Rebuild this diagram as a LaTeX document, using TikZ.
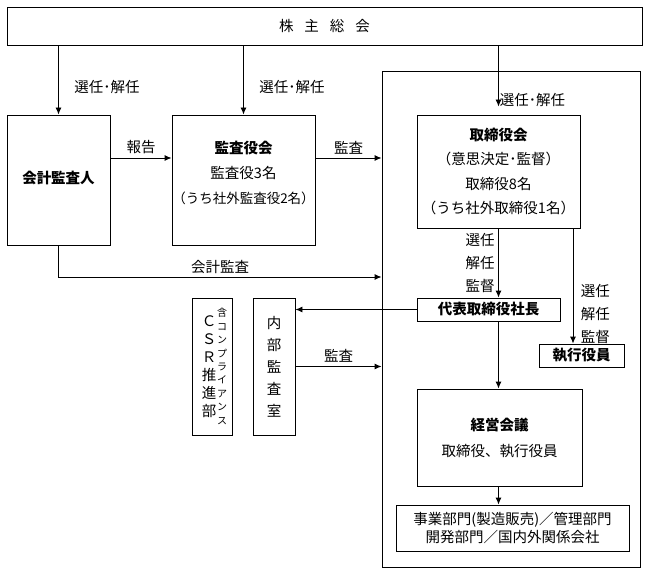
\documentclass[tikz,border=0pt]{standalone}
\usepackage{fontspec}
\setmainfont{Noto Sans CJK JP}
\usetikzlibrary{positioning, arrows.meta}

\newcommand{\fs}[1]{\fontsize{14.5}{#1}\selectfont}

\begin{document}
\begin{tikzpicture}[x=1pt, y=-1pt, font=\fs{16},
  box/.style={draw, line width=0.9pt, inner sep=0pt, align=center},
  arr/.style={line width=0.9pt, -{Latex[length=7pt,width=6pt]}}]
\useasboundingbox (0,0) rectangle (648,575);
\node[box, minimum width=258, minimum height=496] (frame) at (511,319) {};
\node[box, minimum width=635, minimum height=38] (soukai) at (324.5,26)
  {株\hspace{11pt}主\hspace{11pt}総\hspace{11pt}会};
\node[box, minimum width=103, minimum height=130, font=\fs{16}\bfseries] (kaikei) at (58.5,180) {会計監査人\\[-10pt]\mbox{}};
\node[box, minimum width=143, minimum height=130, font=\fontsize{13.5}{25}\selectfont] (kansa) at (243.5,180)
  {\textbf{\fs{25}監査役会}\\\fs{25}監査役3名\\（うち社外監査役2名）\\[-9pt]\mbox{}};
\node[box, minimum width=163, minimum height=113, font=\fs{24.5}] (torishimari) at (498.5,171.5)
  {\textbf{取締役会}\\（意思決定･監督）\\取締役8名\\（うち社外取締役1名）};
\node[box, minimum width=143, minimum height=23, font=\fs{16}\bfseries] (daihyo) at (488.5,309.5) {代表取締役社長};
\node[box, minimum width=85, minimum height=23, font=\fs{16}\bfseries] (shikko) at (581.5,355.5) {執行役員};
\node[box, minimum width=165, minimum height=97, font=\fs{26}] (keiei) at (499.5,437.5)
  {\textbf{経営会議}\\取締役、執行役員};
\node[box, minimum width=233, minimum height=46, font=\fs{18}] (jigyo) at (512.5,528)
  {事業部門(製造販売)／管理部門\\開発部門／国内外関係会社};
\node[box, minimum width=42, minimum height=137, font=\fs{22}] (naibu) at (274,366.5)
  {内\\部\\監\\査\\室};
\node[box, minimum width=40, minimum height=137] (csr) at (212,366.5) {};
\node[align=center, inner sep=0pt, font=\fs{18}] (csrname) at ([xshift=-3pt]csr.center)
  {Ｃ\\Ｓ\\Ｒ\\推\\進\\部};
\node[align=center, inner sep=0pt, font=\fontsize{10}{13.4}\selectfont] (csrnote) at ([xshift=10pt]csr.center)
  {含\\コ\\ン\\プ\\ラ\\イ\\ア\\ン\\ス};

\draw[arr] (soukai.south -| kaikei.north) -- node[right, pos=0.6, xshift=12pt] {選任･解任} (kaikei.north);
\draw[arr] (soukai.south -| kansa.north) -- node[right, pos=0.6, xshift=12pt] {選任･解任} (kansa.north);
\draw[arr] (soukai.south -| torishimari.north) -- node[right, pos=0.89, inner sep=1pt] {選任･解任} ([yshift=8pt]torishimari.north);
\draw[arr] ([yshift=22pt]kaikei.east) -- node[above] {報告} ([yshift=22pt]kansa.west);
\draw[arr] ([yshift=22pt]kansa.east) -- node[above] {監査} ([yshift=22pt]kansa.east -| frame.west);
\draw[arr] (kaikei.south) |- node[above, pos=0.75] {会計監査} (frame.west |- 0,277);
\draw[arr] (torishimari.south) -- node[left, midway, align=center, font=\fs{23}] {選任\\解任\\監督} (torishimari.south |- daihyo.north);
\draw[arr] (torishimari.south -| 573,0) -- node[right, pos=0.74, xshift=4pt, align=center, font=\fs{23}] {選任\\解任\\監督} (shikko.north -| 573,0);
\draw[arr] (daihyo.west) -- (daihyo.west -| naibu.east);
\draw[arr] (naibu.east) -- node[above] {監査} (naibu.east -| frame.west);
\draw[arr] (torishimari.south |- daihyo.south) -- (torishimari.south |- keiei.north);
\draw[arr] (torishimari.south |- keiei.south) -- (torishimari.south |- jigyo.north);
\end{tikzpicture}
\end{document}
